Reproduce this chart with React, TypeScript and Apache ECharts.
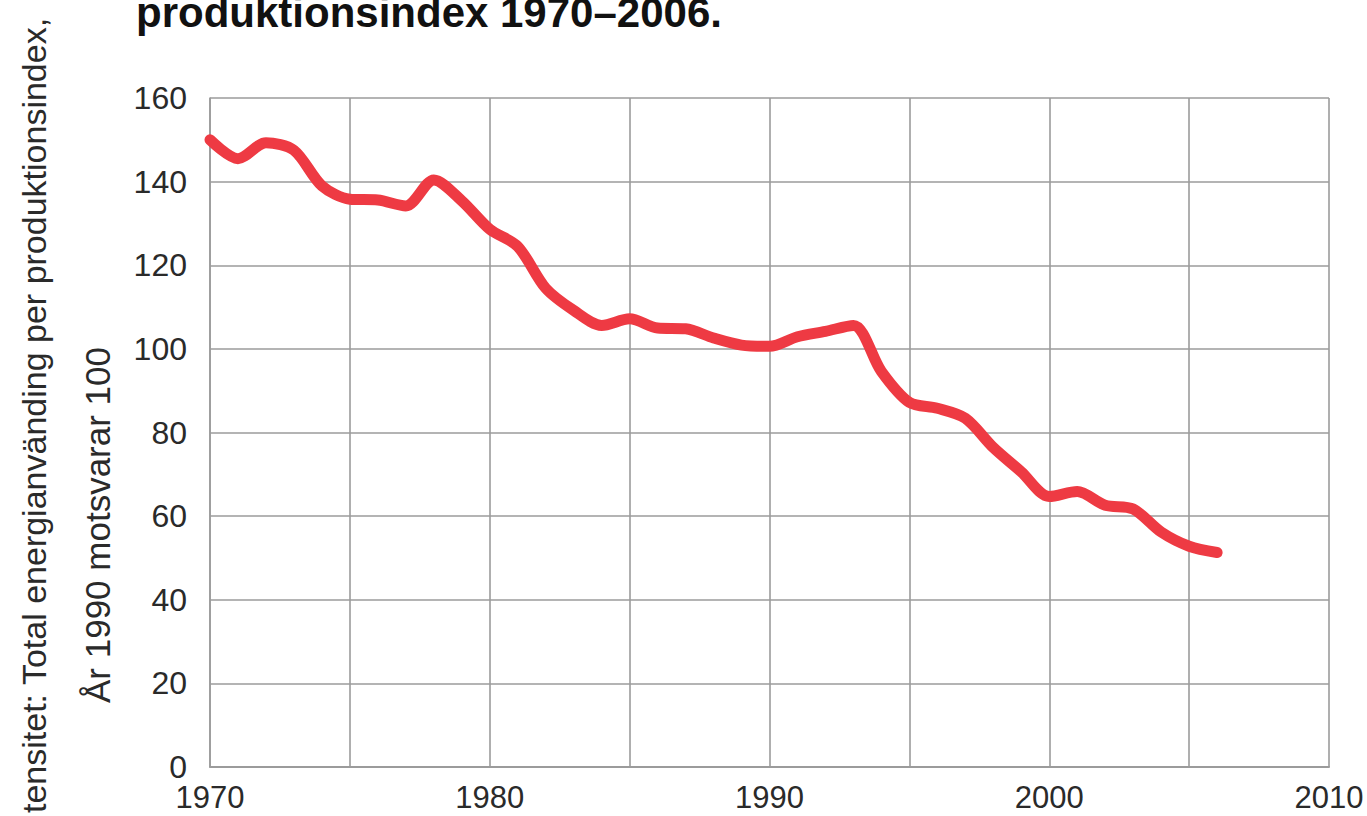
import React, { useEffect, useRef } from "react";
import * as echarts from "echarts";

const years = [1970, 1971, 1972, 1973, 1974, 1975, 1976, 1977, 1978, 1979, 1980, 1981, 1982, 1983, 1984, 1985, 1986, 1987, 1988, 1989, 1990, 1991, 1992, 1993, 1994, 1995, 1996, 1997, 1998, 1999, 2000, 2001, 2002, 2003, 2004, 2005, 2006];
const intensity = [150, 145.5, 149.3, 147.5, 139, 135.8, 135.6, 134.2, 140.4, 135.4, 128.6, 124.5, 114.5, 109.2, 105.6, 107.2, 105, 104.8, 102.6, 100.9, 100.6, 102.9, 104.2, 105.6, 94.6, 87.2, 85.8, 83.4, 76.4, 70.6, 64.7, 65.9, 62.6, 61.7, 56.2, 52.8, 51.3];
const xTicks = [1970, 1980, 1990, 2000, 2010];

const titleText = "produktionsindex 1970–2006.";
const yTitle1 = "tensitet: Total energianvänding per produktionsindex,";
const yTitle2 = "År 1990 motsvarar 100";

const FONT = "'Liberation Sans', Arial, sans-serif";

export default function App() {
  const ref = useRef<HTMLDivElement>(null);
  useEffect(() => {
    if (!ref.current) return;
    const chart = echarts.init(ref.current, null, { renderer: "svg" });
    const grid = "#9b9b9b";
    chart.setOption({
      animation: false,
      backgroundColor: "#ffffff",
      grid: { left: 210, right: 38, top: 98, bottom: 49, containLabel: false },
      xAxis: {
        type: "value",
        min: 1970,
        max: 2010,
        interval: 5,
        axisLine: { show: true, lineStyle: { color: grid, width: 2 } },
        axisTick: { show: false },
        splitLine: { show: true, lineStyle: { color: grid, width: 1.6 } },
        axisLabel: {
          margin: 16,
          fontSize: 31,
          lineHeight: 28,
          fontFamily: FONT,
          color: "#2a2a2a",
          formatter: (v: number) => (xTicks.includes(v) ? String(v) : ""),
        },
      },
      yAxis: {
        type: "value",
        min: 0,
        max: 160,
        interval: 20,
        axisLine: { show: true, lineStyle: { color: grid, width: 1.6 } },
        axisTick: { show: false },
        splitLine: { show: true, lineStyle: { color: grid, width: 1.6 } },
        axisLabel: {
          margin: 23,
          fontSize: 32,
          lineHeight: 26,
          padding: [0, 0, 6, 0],
          fontFamily: FONT,
          color: "#2a2a2a",
        },
      },
      series: [
        {
          type: "line",
          data: years.map((y, i) => [y, intensity[i]]),
          smooth: 0.3,
          symbol: "none",
          lineStyle: { color: "#ee3a43", width: 11, cap: "round", join: "round" },
        },
      ],
      graphic: [
        {
          type: "text",
          x: 136,
          y: 33,
          style: {
            text: titleText,
            fontSize: 42,
            fontWeight: "bold",
            fontFamily: FONT,
            fill: "#111",
            textAlign: "left",
            textVerticalAlign: "bottom",
          },
        },
        {
          type: "text",
          x: 34,
          y: 813,
          rotation: Math.PI / 2,
          style: {
            text: yTitle1,
            fontSize: 34,
            fontFamily: FONT,
            fill: "#2a2a2a",
            textAlign: "left",
            textVerticalAlign: "middle",
          },
        },
        {
          type: "text",
          x: 97,
          y: 525,
          rotation: Math.PI / 2,
          style: {
            text: yTitle2,
            fontSize: 35,
            fontFamily: FONT,
            fill: "#2a2a2a",
            textAlign: "center",
            textVerticalAlign: "middle",
          },
        },
      ],
    });
    return () => chart.dispose();
  }, []);
  return (
    <div
      ref={ref}
      style={{ position: "fixed", left: 0, top: 0, width: 1367, height: 816 }}
    />
  );
}
